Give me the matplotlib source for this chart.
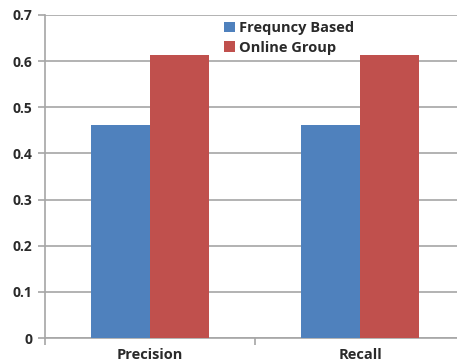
import matplotlib
matplotlib.use("Agg")
import matplotlib.pyplot as plt
import numpy as np

categories = ["Precision", "Recall"]
frequency_based = [0.462, 0.462]
online_group = [0.613, 0.613]
series_names = ["Frequncy Based", "Online Group"]
yticks = [0, 0.1, 0.2, 0.3, 0.4, 0.5, 0.6, 0.7]

plt.rcParams['font.family'] = ['Open Sans', 'DejaVu Sans']

fig = plt.figure(figsize=(4.57, 3.62), dpi=100)
ax = fig.add_axes([45/457, 1 - 338/362, 420/457, (338-15)/362])

x = np.arange(len(categories))
w = 0.28
ax.bar(x - w/2, frequency_based, w, color="#4F81BD", label=series_names[0], zorder=3)
ax.bar(x + w/2, online_group, w, color="#C0504D", label=series_names[1], zorder=3)

ax.set_xlim(-0.5, len(categories) - 0.5)
ax.set_ylim(0, 0.7)
ax.set_yticks(yticks)
ax.set_yticklabels([("%g" % v) for v in yticks], fontsize=10, color="#2a2a2a", fontweight="bold")
ax.yaxis.grid(True, color="#a6a6a6", linewidth=1.2, zorder=0)
ax.set_axisbelow(True)

ax.set_xticks(x)
ax.set_xticklabels(categories, fontsize=10.5, color="#2a2a2a", fontweight="bold")
ax.tick_params(axis='x', length=0, pad=7)
ax.set_xticks(np.arange(-0.5, len(categories)), minor=True)
ax.tick_params(axis='x', which='minor', length=5, color="#a6a6a6", width=1.2)
ax.tick_params(axis='y', length=5, color="#a6a6a6", width=1.2, pad=4)

for s in ["top", "right"]:
    ax.spines[s].set_visible(False)
for s in ["left", "bottom"]:
    ax.spines[s].set_color("#a6a6a6")
    ax.spines[s].set_linewidth(1.2)

leg = ax.legend(loc="upper left", bbox_to_anchor=((224-45)/420, 1 - 6/323), frameon=False,
                fontsize=10.5, handlelength=0.75, handleheight=0.75, handletextpad=0.25,
                labelspacing=0.4, borderaxespad=0, borderpad=0)
for t in leg.get_texts():
    t.set_fontweight("bold")
    t.set_color("#2a2a2a")

fig.savefig("out.png", dpi=100)
